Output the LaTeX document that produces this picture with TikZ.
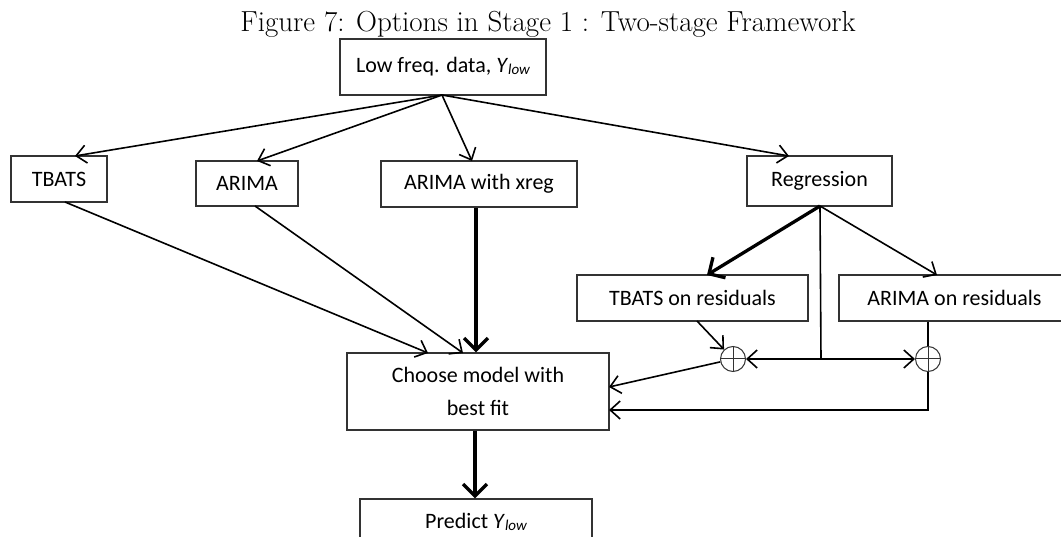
\documentclass[tikz,border=0pt]{standalone}
\usepackage{fontspec}
\newfontfamily\carl{Carlito}
\usetikzlibrary{arrows.meta,calc}
\tikzset{
  box/.style={draw=black!80, line width=1.2pt, inner sep=0pt, font=\carl\fontsize{22}{33}\selectfont, align=center},
  arr/.style={-{Straight Barb[length=10pt,width=18pt,line width=1.6pt]}, line width=1.6pt},
  tarr/.style={-{Straight Barb[length=12pt,width=24pt,line width=3.3pt]}, line width=3.3pt},
  ln/.style={line width=1.6pt},
  plus/.style={circle, draw=black!80, line width=1pt, minimum size=25pt, inner sep=0pt},
}
\newcommand{\ylow}{\textit{Y}\raisebox{-2pt}{\fontsize{15}{15}\selectfont\itshape low}}
\begin{document}
\begin{tikzpicture}[x=1pt,y=-1pt]
\useasboundingbox (0,0) rectangle (1061,537);
\clip (0,0) rectangle (1061,537);
\node[anchor=base, font=\fontsize{29}{32}\selectfont] (title) at (548,32) {Figure 7: Options in Stage 1 : Two-stage Framework};
\node[box, minimum width=206pt, minimum height=56pt] (low) at (443,67) {Low freq. data, \ylow};
\node[box, minimum width=96pt, minimum height=46pt] (tbats) at (59,179) {TBATS};
\node[box, minimum width=102pt, minimum height=45pt] (arima) at (247,183.5) {ARIMA};
\node[box, minimum width=196pt, minimum height=46pt] (xreg) at (479,184) {ARIMA with xreg};
\node[box, minimum width=145pt, minimum height=50pt] (reg) at (819.5,181) {Regression};
\node[box, minimum width=231pt, minimum height=46pt] (tres) at (692.5,298) {TBATS on residuals};
\node[box, minimum width=231pt, minimum height=46pt] (ares) at (954.5,298) {ARIMA on residuals};
\node[box, minimum width=262pt, minimum height=77pt] (choose) at (478,391.5) {Choose model with\\best fit};
\node[box, minimum width=232pt, minimum height=46pt] (pred) at (476,522) {Predict \ylow};
\node[plus] (p1) at (733,359) {};
\node[plus] (p2) at (928,359) {};
\draw[line width=1pt, black!80] (p1.north) -- (p1.south) (p1.west) -- (p1.east);
\draw[line width=1pt, black!80] (p2.north) -- (p2.south) (p2.west) -- (p2.east);
% coordinates
\coordinate (lowout) at (442,95);
\coordinate (regout) at (820,206);
\coordinate (junc) at (821,359);
\coordinate (tin) at (75,156);
\coordinate (ain) at (257,161);
\coordinate (xin) at (472,161);
\coordinate (rin) at (789,156);
\coordinate (tout) at (65,202);
\coordinate (aout) at (255,206);
\coordinate (cin1) at (428,353);
\coordinate (cin2) at (463,353);
\coordinate (trin) at (707,275);
\coordinate (arin) at (937,275);
\coordinate (trout) at (697,321);
\coordinate (cr1) at (609,387);
\coordinate (cr2) at (609,410);
% connectors
\draw[arr] (lowout) -- (tin);
\draw[arr] (lowout) -- (ain);
\draw[arr] (lowout) -- (xin);
\draw[arr] (lowout) -- (rin);
\draw[arr] (tout) -- (cin1);
\draw[arr] (aout) -- (cin2);
\draw[tarr] (xreg.south -| 476,0) -- (choose.north -| 476,0);
\draw[tarr] (choose.south -| 475,0) -- (pred.north -| 475,0);
\draw[tarr] (regout) -- (trin);
\draw[arr] (regout) -- (arin);
\draw[ln] (regout) -- (junc);
\draw[arr] (junc) -- (p1.east);
\draw[arr] (junc) -- (p2.west);
\draw[arr] (trout) -- (p1);
\draw[ln] (ares.south -| p2) -- (p2.north);
\draw[arr] (p1) -- (cr1);
\draw[arr] (p2.south) |- (cr2);
\end{tikzpicture}
\end{document}
